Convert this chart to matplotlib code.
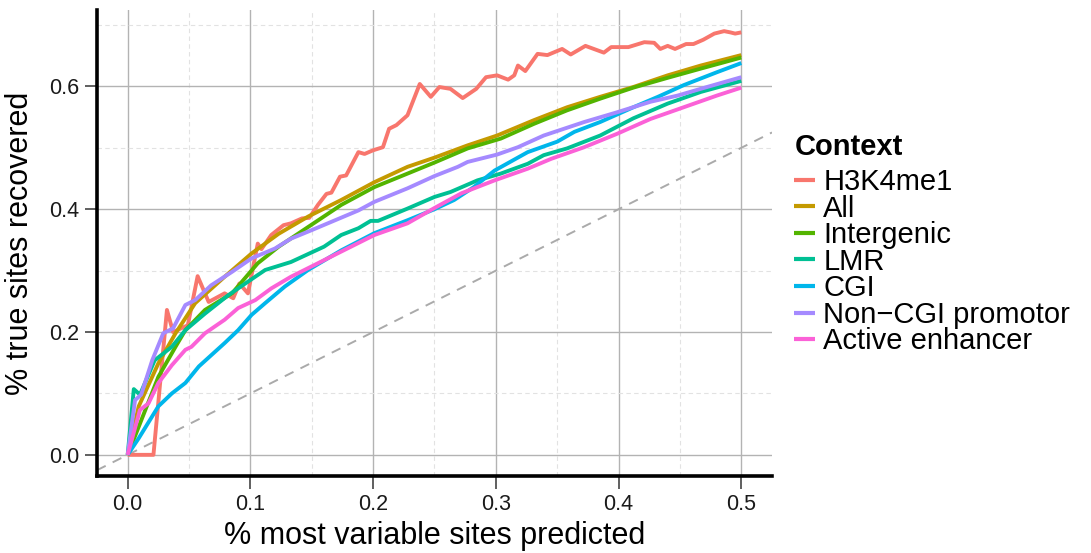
import matplotlib
matplotlib.use("Agg")
import matplotlib.pyplot as plt
from matplotlib.ticker import MultipleLocator

plt.rcParams["font.family"] = ["Liberation Sans", "DejaVu Sans"]

# --- data ------------------------------------------------------------------
contexts = ["H3K4me1", "All", "Intergenic", "LMR", "CGI",
            "Non\u2212CGI promotor", "Active enhancer"]
colors = ["#F8766D", "#C49A00", "#53B400", "#00C094", "#00B6EB",
          "#A58AFF", "#FB61D7"]

h3k4me1_x = [0, 0.021, 0.032, 0.037, 0.049, 0.057, 0.066, 0.079, 0.086, 0.091,
             0.098, 0.106, 0.109, 0.117, 0.127, 0.133, 0.142, 0.148, 0.155, 0.162,
             0.166, 0.173, 0.178, 0.188, 0.193, 0.2, 0.208, 0.213, 0.219, 0.228,
             0.238, 0.247, 0.254, 0.263, 0.273, 0.284, 0.292, 0.301, 0.31, 0.315,
             0.318, 0.324, 0.334, 0.342, 0.354, 0.361, 0.373, 0.388, 0.394, 0.408,
             0.421, 0.429, 0.434, 0.44, 0.446, 0.455, 0.461, 0.469, 0.478, 0.486,
             0.491, 0.495, 0.5]
h3k4me1_y = [0, 0, 0.236, 0.2, 0.211, 0.291, 0.249, 0.263, 0.255, 0.279,
             0.263, 0.344, 0.335, 0.358, 0.374, 0.377, 0.385, 0.386, 0.407, 0.425,
             0.427, 0.453, 0.455, 0.493, 0.49, 0.496, 0.501, 0.531, 0.537, 0.553,
             0.604, 0.583, 0.599, 0.596, 0.581, 0.596, 0.615, 0.618, 0.611, 0.618,
             0.634, 0.625, 0.653, 0.651, 0.661, 0.652, 0.666, 0.655, 0.664, 0.664,
             0.672, 0.671, 0.661, 0.666, 0.661, 0.669, 0.669, 0.676, 0.686, 0.69,
             0.688, 0.686, 0.688]

all_x = [0, 0.009, 0.025, 0.039, 0.055, 0.079, 0.101, 0.123, 0.147, 0.174, 0.201,
         0.228, 0.25, 0.277, 0.301, 0.331, 0.358, 0.385, 0.412, 0.44, 0.467, 0.5]
all_y = [0, 0.079, 0.149, 0.198, 0.247, 0.29, 0.328, 0.36, 0.388, 0.415, 0.444,
         0.469, 0.484, 0.504, 0.52, 0.545, 0.566, 0.583, 0.599, 0.618, 0.634, 0.651]

intergenic_x = [0, 0.025, 0.039, 0.047, 0.063, 0.085, 0.106, 0.123, 0.147, 0.174,
                0.201, 0.228, 0.25, 0.277, 0.304, 0.331, 0.358, 0.385, 0.412, 0.44,
                0.467, 0.5]
intergenic_y = [0, 0.127, 0.176, 0.203, 0.236, 0.263, 0.312, 0.339, 0.371, 0.407,
                0.436, 0.458, 0.476, 0.499, 0.515, 0.539, 0.561, 0.58, 0.598, 0.614,
                0.629, 0.647]

lmr_x = [0, 0.005, 0.01, 0.022, 0.036, 0.047, 0.063, 0.082, 0.098, 0.112,
         0.133, 0.16, 0.174, 0.188, 0.198, 0.204, 0.228, 0.25, 0.263, 0.285,
         0.304, 0.326, 0.339, 0.358, 0.385, 0.412, 0.44, 0.467, 0.5]
lmr_y = [0, 0.107, 0.098, 0.154, 0.176, 0.203, 0.23, 0.26, 0.282, 0.301,
         0.314, 0.339, 0.358, 0.369, 0.381, 0.381, 0.401, 0.42, 0.428, 0.447,
         0.458, 0.474, 0.488, 0.499, 0.52, 0.548, 0.572, 0.591, 0.609]

cgi_x = [0, 0.009, 0.025, 0.036, 0.047, 0.058, 0.079, 0.09, 0.101, 0.112,
         0.128, 0.147, 0.174, 0.201, 0.228, 0.25, 0.266, 0.282, 0.299, 0.326,
         0.35, 0.364, 0.385, 0.412, 0.432, 0.453, 0.48, 0.5]
cgi_y = [0, 0.027, 0.079, 0.1, 0.117, 0.144, 0.182, 0.203, 0.228, 0.247,
         0.274, 0.301, 0.333, 0.361, 0.382, 0.4, 0.415, 0.436, 0.463, 0.493,
         0.51, 0.526, 0.542, 0.566, 0.583, 0.602, 0.623, 0.638]

noncgi_x = [0, 0.006, 0.011, 0.02, 0.029, 0.037, 0.047, 0.055, 0.068, 0.085,
            0.101, 0.12, 0.133, 0.15, 0.169, 0.188, 0.201, 0.228, 0.25, 0.269,
            0.277, 0.301, 0.318, 0.339, 0.372, 0.399, 0.426, 0.448, 0.472, 0.5]
noncgi_y = [0, 0.089, 0.098, 0.154, 0.198, 0.206, 0.244, 0.252, 0.276, 0.298,
            0.32, 0.336, 0.352, 0.366, 0.382, 0.398, 0.412, 0.434, 0.454, 0.469,
            0.477, 0.489, 0.501, 0.52, 0.542, 0.558, 0.575, 0.585, 0.599, 0.615]

enhancer_x = [0, 0.01, 0.017, 0.025, 0.036, 0.047, 0.052, 0.063, 0.079, 0.09,
              0.104, 0.117, 0.133, 0.147, 0.16, 0.174, 0.201, 0.228, 0.25, 0.272,
              0.299, 0.326, 0.345, 0.372, 0.399, 0.426, 0.453, 0.48, 0.5]
enhancer_y = [0, 0.073, 0.084, 0.117, 0.146, 0.171, 0.176, 0.198, 0.22, 0.239,
              0.252, 0.271, 0.29, 0.304, 0.317, 0.331, 0.358, 0.377, 0.402, 0.426,
              0.447, 0.466, 0.482, 0.501, 0.523, 0.547, 0.566, 0.585, 0.598]

series = [(h3k4me1_x, h3k4me1_y), (all_x, all_y), (intergenic_x, intergenic_y),
          (lmr_x, lmr_y), (cgi_x, cgi_y), (noncgi_x, noncgi_y),
          (enhancer_x, enhancer_y)]

# --- figure -----------------------------------------------------------------
fig = plt.figure(figsize=(10.91, 5.53), dpi=100)
ax = fig.add_axes([0.0889, 0.1392, 0.6187, 0.8428])

xlim = (-0.025, 0.525)
ylim = (-0.0345, 0.7245)
ax.set_xlim(*xlim)
ax.set_ylim(*ylim)

# ggplot-ish grid: solid majors, dashed minors
ax.xaxis.set_major_locator(MultipleLocator(0.1))
ax.yaxis.set_major_locator(MultipleLocator(0.2))
ax.xaxis.set_minor_locator(MultipleLocator(0.05))
ax.yaxis.set_minor_locator(MultipleLocator(0.1))
ax.grid(which="major", color="#b3b3b3", lw=1.0, ls="-")
ax.grid(which="minor", color="#e2e2e2", lw=0.8, ls=(0, (4, 3)))
ax.set_axisbelow(True)

# random-guess reference y = x
ax.plot(xlim, xlim, color="#aaaaaa", lw=1.4, ls=(0, (5, 4)), zorder=1.5)

for (xs, ys), name, c in zip(series, contexts, colors):
    ax.plot(xs, ys, color=c, lw=2.8, label=name, solid_joinstyle="round",
            solid_capstyle="butt", zorder=2)

for side in ("top", "right"):
    ax.spines[side].set_visible(False)
for side in ("left", "bottom"):
    ax.spines[side].set_linewidth(2.6)
    ax.spines[side].set_color("black")

ax.tick_params(which="major", length=9, width=1.2, color="#444444",
               labelsize=15.5, labelcolor="#1a1a1a", pad=4)
ax.tick_params(which="minor", length=0)
ax.set_xticklabels([f"{v:.1f}" for v in ax.get_xticks()])
ax.set_yticklabels([f"{v:.1f}" for v in ax.get_yticks()])

ax.set_xlabel("% most variable sites predicted", fontsize=22, labelpad=4)
ax.set_ylabel("% true sites recovered", fontsize=22, labelpad=10)

# legend title placed on its own so the gap to the entries matches ggplot
fig.text(795 / 1091, 1 - 147 / 553, "Context", fontsize=21,
         fontweight="bold", ha="left", va="center")
leg = ax.legend(loc="upper left",
                bbox_to_anchor=(0.7279, 1 - 168 / 553),
                bbox_transform=fig.transFigure,
                frameon=False, fontsize=21, handlelength=0.7,
                handletextpad=0.3, labelspacing=-0.05, borderpad=0,
                borderaxespad=0)
for line in leg.get_lines():
    line.set_linewidth(3)

fig.savefig("out.png", dpi=100)
